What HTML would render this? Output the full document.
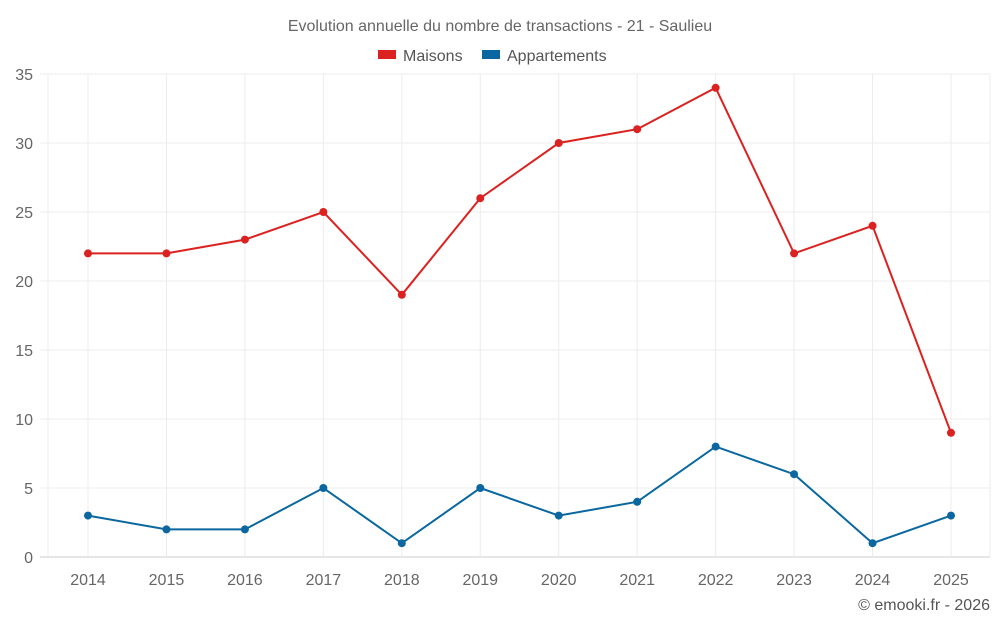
<!DOCTYPE html>
<html><head><meta charset="utf-8"><style>
body{margin:0;background:#fff;font-family:"Liberation Sans",sans-serif}
svg text{font-family:"Liberation Sans",sans-serif}
</style></head><body>
<svg id="c" width="1000" height="625">
<text x="500" y="31" text-anchor="middle" font-size="16" fill="#666">Evolution annuelle du nombre de transactions - 21 - Saulieu</text>
<g><rect x="378" y="50" width="18" height="9" fill="#dc2121"/><text x="403" y="61" font-size="16" fill="#555">Maisons</text></g>
<g><rect x="482" y="50" width="18" height="9" fill="#0a67a0"/><text x="507" y="61" font-size="16" fill="#555">Appartements</text></g>
<text x="990" y="610" text-anchor="end" font-size="16" fill="#555">© emooki.fr - 2026</text>
<g id="grid"></g><g id="axes"></g><g id="series"></g>
</svg>
<script>
const categories=["2014","2015","2016","2017","2018","2019","2020","2021","2022","2023","2024","2025"];
const maisons=[22,22,23,25,19,26,30,31,34,22,24,9];
const appartements=[3,2,2,5,1,5,3,4,8,6,1,3];
const yTicks=[0,5,10,15,20,25,30,35];
const NS="http://www.w3.org/2000/svg";
const x=i=>88+i*(951-88)/(categories.length-1);
const y=v=>557-v*(557-74)/35;
function mk(t,a,p){const e=document.createElementNS(NS,t);for(const k in a)e.setAttribute(k,a[k]);p.appendChild(e);return e;}
const grid=document.getElementById('grid'),axes=document.getElementById('axes'),ser=document.getElementById('series');
yTicks.forEach(v=>{
 const l=mk('line',{x1:40,x2:990,y1:y(v),y2:y(v),stroke:v===0?'#ccc':'#ececec','stroke-width':1},grid);
 
 
 const t=mk('text',{x:33,y:y(v)+6,'text-anchor':'end','font-size':16,fill:'#666'},axes);
 t.textContent=v;
 
 
});
const vl=mk('line',{x1:48,x2:48,y1:74,y2:557,stroke:'#ececec'},grid);


const vr=mk('line',{x1:990,x2:990,y1:74,y2:557,stroke:'#ececec'},grid);


categories.forEach((c,i)=>{
 const l=mk('line',{x1:x(i),x2:x(i),y1:74,y2:557,stroke:'#ececec'},grid);
 
 
 const t=mk('text',{x:x(i),y:585,'text-anchor':'middle','font-size':16,fill:'#666'},axes);
 t.textContent=c;
 
 
});
function draw(data,color,name){
 const p=mk('polyline',{points:data.map((v,i)=>x(i)+','+y(v)).join(' '),fill:'none',stroke:color,'stroke-width':2},ser);
 
 
 data.forEach((v,i)=>{
  const c=mk('circle',{cx:x(i),cy:y(v),r:4,fill:color},ser);
  
  
 });
}
draw(maisons,'#dc2121','maisons');
draw(appartements,'#0a67a0','appartements');
</script>
</body></html>
